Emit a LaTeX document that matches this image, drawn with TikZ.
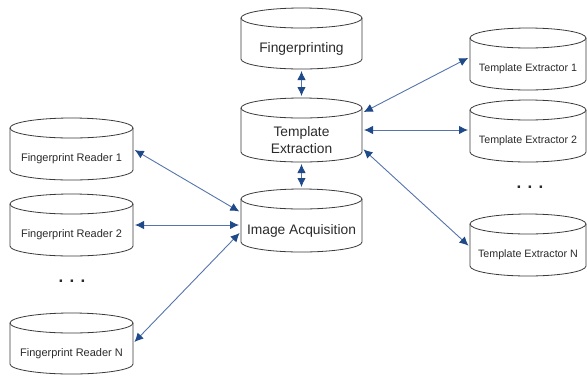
\documentclass[tikz,border=0pt]{standalone}
\usepackage{fontspec}
\setmainfont{Liberation Sans}
\usetikzlibrary{arrows.meta,calc}

\definecolor{rimgray}{HTML}{3A3A3A}
\definecolor{textgray}{HTML}{2A2A2A}
\definecolor{linkblue}{HTML}{5674AC}
\definecolor{tipblue}{HTML}{1F4A8A}

\tikzset{
  drumbox/.style={draw=none, inner sep=0pt, outer sep=0pt},
  drumline/.style={draw=rimgray, line width=0.8pt},
  drumtext/.style={text=textgray, inner sep=0pt, align=center},
  link/.style={draw=linkblue, line width=0.9pt,
    {Latex[length=9pt,width=8.5pt,color=tipblue]}-{Latex[length=9pt,width=8.5pt,color=tipblue]},
    shorten <=2pt, shorten >=2pt},
  moredots/.style={text=textgray, font=\fontsize{17}{17}\selectfont\bfseries},
}

% #1 name, #2 left, #3 top, #4 width, #5 height, #6 font size, #7 label
\newcommand\dbdrum[7]{%
  \node[drumbox, minimum width=#4pt, minimum height=#5pt] (#1) at ({#2+#4/2},{#3+#5/2}) {};
  \draw[drumline] ([yshift=-10pt]#1.north) ellipse [x radius=#4*0.5pt, y radius=10pt];
  \draw[drumline] ([yshift=-10pt]#1.north west) -- ([yshift=10pt]#1.south west)
    arc[start angle=180, end angle=360, x radius=#4*0.5pt, y radius=10pt]
    -- ([yshift=-10pt]#1.north east);
  \node[drumtext, font=\fontsize{#6}{17}\selectfont] (#1-label) at ([yshift=-10pt]#1.center) {#7};
}

\begin{document}
\begin{tikzpicture}[x=1pt, y=-1pt]
  \useasboundingbox (0,0) rectangle (587,376);

  % central pipeline
  \dbdrum{fp}{241}{8}{121}{61}{13.8}{Fingerprinting}
  \dbdrum{te}{241}{98}{121}{64}{13.8}{Template\\Extraction}
  \dbdrum{ia}{241}{189}{121}{63}{13.8}{Image Acquisition}

  % readers
  \dbdrum{r1}{10}{118}{123}{62}{11}{Fingerprint Reader 1}
  \dbdrum{r2}{10}{194}{123}{62}{11}{Fingerprint Reader 2}
  \dbdrum{rN}{10}{313}{123}{61}{11}{Fingerprint Reader N}

  % extractors
  \dbdrum{e1}{470}{28}{116}{62}{10.7}{Template Extractor 1}
  \dbdrum{e2}{470}{100}{116}{62}{10.7}{Template Extractor 2}
  \dbdrum{eN}{470}{214}{116}{62}{10.7}{Template Extractor N}

  \node[moredots] (ldots) at (72,281) {. . .};
  \node[moredots] (rdots) at (530,187) {. . .};

  % connections
  \draw[link] (fp.south) -- (te.north);
  \draw[link] (te.south) -- (ia.north);

  \draw[link] ([yshift=17pt]te.east) -- ([yshift=2pt]e1.west);
  \draw[link] (te.east) -- (te.east -| e2.west);
  \draw[link] ([yshift=-18pt]te.east) -- ([yshift=-2pt]eN.west);

  \draw[link] (r1.east) -- ([yshift=8pt]ia.west);
  \draw[link] (r2.east) -- (r2.east -| ia.west);
  \draw[link] (rN.east) -- ([yshift=-11pt]ia.west);
\end{tikzpicture}
\end{document}
